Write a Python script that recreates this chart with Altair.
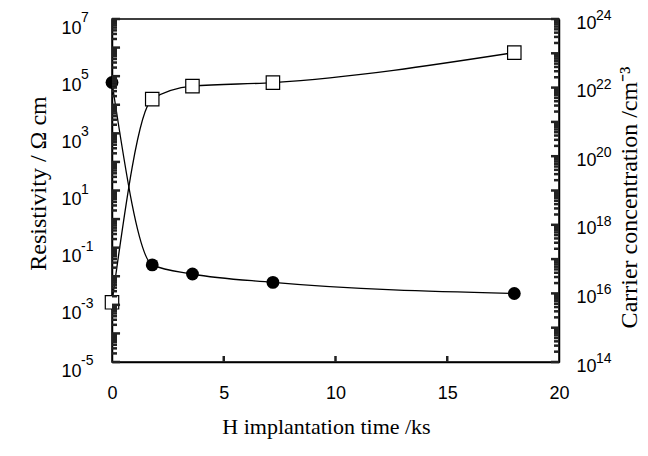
import altair as alt
import pandas as pd

# ---- data ----
time_ks = [0, 1.8, 3.6, 7.2, 18]
resistivity = [6.0e4, 0.025, 0.012, 0.0061, 0.0025]      # ohm cm (left axis)
carrier = [5.5e15, 4.6e21, 1.1e22, 1.4e22, 1.05e23]      # cm^-3 (right axis)

x_tick_values = [0, 5, 10, 15, 20]
x_inner_ticks = [5, 10, 15]
left_label_exps = [7, 5, 3, 1, -1, -3, -5]
left_exp_text = ["7", "5", "3", "1", "-1", "-3", "-5"]
right_label_exps = [24, 22, 20, 18, 16, 14]
right_exp_text = ["24", "22", "20", "18", "16", "14"]
label_base = "10"

x_title = "H implantation time /ks"
left_title = "Resistivity / Ω cm"
right_title = "Carrier concentration /cm⁻³"

W, H = 447, 343
TICK_COLOR = "#222222"

df_res = pd.DataFrame({"t": time_ks, "v": resistivity})
df_car = pd.DataFrame({"t": time_ks, "v": carrier})
df_lexp = pd.DataFrame({"v": [10.0 ** e for e in left_label_exps], "s": left_exp_text})
df_rexp = pd.DataFrame({"v": [10.0 ** e for e in right_label_exps], "s": right_exp_text})

left_major = pd.DataFrame({"v": [10.0 ** e for e in range(-5, 8)], "k": "a"})
left_minor = pd.DataFrame({"v": [m * 10.0 ** e for e in range(-5, 7) for m in range(2, 10)], "k": "b"})
right_major = pd.DataFrame({"v": [10.0 ** e for e in range(14, 25)], "k": "c"})
right_minor = pd.DataFrame({"v": [m * 10.0 ** e for e in range(14, 24) for m in range(2, 10)], "k": "d"})
x_ticks_df = pd.DataFrame({"t": x_inner_ticks, "k": "e"})

x_scale = alt.Scale(domain=[0, 20], nice=False, zero=False)
left_scale = alt.Scale(type="log", domain=[1e-5, 1e7], nice=False)
right_scale = alt.Scale(type="log", domain=[1e14, 1e24], nice=False)

x_axis = alt.Axis(
    values=x_tick_values, format="d", title=x_title,
    labelPadding=36, labelBaseline="alphabetic",
    titleX=214, titleY=71, titleAlign="center", titleBaseline="alphabetic",
    titleFontSize=22,
)

left_axis = alt.Axis(
    orient="left", values=[10.0 ** e for e in left_label_exps],
    labelExpr=f"'{label_base}'",
    labelAlign="left", labelPadding=51, labelOffset=14, labelBaseline="alphabetic",
    title=left_title, titleAngle=270, titleX=-67, titleY=164,
    titleAlign="center", titleBaseline="alphabetic", titleFontSize=24,
)

right_axis = alt.Axis(
    orient="right", values=[10.0 ** e for e in right_label_exps],
    labelExpr=f"'{label_base}'",
    labelAlign="left", labelPadding=17, labelOffset=9, labelBaseline="alphabetic",
    title=right_title, titleAngle=270, titleX=77, titleY=178,
    titleAlign="center", titleBaseline="alphabetic", titleFontSize=24,
)

X = alt.X("t:Q", scale=x_scale)

res_line = alt.Chart(df_res).mark_line(
    interpolate="monotone", color="black", strokeWidth=1.3
).encode(
    x=alt.X("t:Q", scale=x_scale, axis=x_axis),
    y=alt.Y("v:Q", scale=left_scale, axis=left_axis),
)
res_pts = alt.Chart(df_res).mark_point(
    shape="circle", filled=True, color="black", size=165, opacity=1
).encode(x=X, y=alt.Y("v:Q", scale=left_scale, axis=None))

car_line = alt.Chart(df_car).mark_line(
    interpolate="monotone", color="black", strokeWidth=1.3
).encode(x=X, y=alt.Y("v:Q", scale=right_scale, axis=right_axis))
car_pts = alt.Chart(df_car).mark_point(
    shape="square", filled=True, fill="white", stroke="black", strokeWidth=1.2,
    size=180, opacity=1
).encode(x=X, y=alt.Y("v:Q", scale=right_scale, axis=None))

lexp = alt.Chart(df_lexp).mark_text(
    align="left", baseline="alphabetic", font="Liberation Sans", fontSize=14,
    color="black", dy=3
).encode(
    y=alt.Y("v:Q", scale=left_scale, axis=None), x=alt.value(-31), text="s:N"
)
rexp = alt.Chart(df_rexp).mark_text(
    align="left", baseline="alphabetic", font="Liberation Sans", fontSize=14,
    color="black", dy=1
).encode(
    y=alt.Y("v:Q", scale=right_scale, axis=None), x=alt.value(W + 37), text="s:N"
)

# inward axis tick marks
lmaj = alt.Chart(left_major).mark_rule(color=TICK_COLOR, strokeWidth=2.5).encode(
    y=alt.Y("v:Q", scale=left_scale, axis=None),
    x=alt.X(datum=0, scale=x_scale), x2=alt.X2(datum=0.36),
)
lmin = alt.Chart(left_minor).mark_rule(color=TICK_COLOR, strokeWidth=2.5).encode(
    y=alt.Y("v:Q", scale=left_scale, axis=None), x=alt.value(0), x2=alt.value(5),
    detail="k:N",
)
rmaj = alt.Chart(right_major).mark_rule(color=TICK_COLOR, strokeWidth=2.5).encode(
    y=alt.Y("v:Q", scale=right_scale, axis=None), x=alt.value(W - 8), x2=alt.value(W),
)
rmin = alt.Chart(right_minor).mark_rule(color=TICK_COLOR, strokeWidth=2.5).encode(
    y=alt.Y("v:Q", scale=right_scale, axis=None), x=alt.value(W - 5), x2=alt.value(W),
    detail="k:N",
)
xt = alt.Chart(x_ticks_df).mark_rule(color=TICK_COLOR, strokeWidth=2.5).encode(
    x=X, y=alt.value(H), y2=alt.value(H - 6)
)

chart = alt.layer(
    res_line, car_line, lexp, rexp, res_pts, car_pts, lmaj, lmin, rmaj, rmin, xt
).resolve_scale(y="independent").properties(
    width=W, height=H,
    padding={"left": 104, "top": 11, "right": 81, "bottom": 86},
    autosize=alt.AutoSizeParams(type="none"),
    background="white",
).configure_view(
    stroke="black", strokeWidth=1.5
).configure_axis(
    domainColor="black", domainWidth=1.5, grid=False, ticks=False, tickSize=0,
    labelFont="Liberation Sans", labelFontSize=18, labelColor="black",
    titleFont="Liberation Serif", titleColor="black", titleFontWeight="normal",
    labelOverlap=False, labelFlush=False, labelBound=False,
)

chart.save("out.html", embed_options={"renderer": "svg", "actions": False})
